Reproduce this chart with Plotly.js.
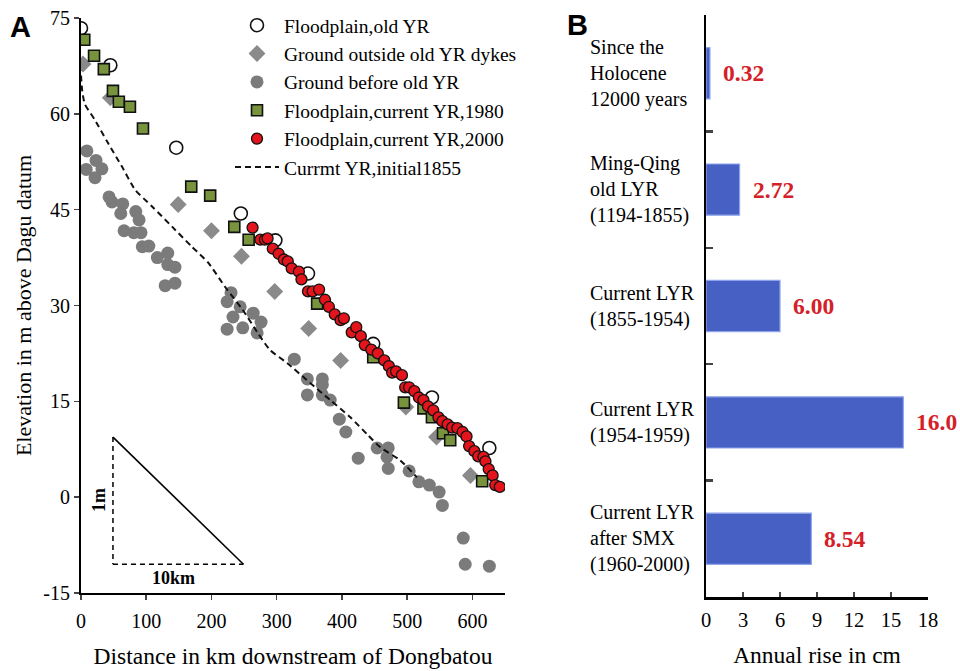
<!DOCTYPE html>
<html>
<head>
<meta charset="utf-8">
<script src="https://cdn.plot.ly/plotly-3.0.1.min.js"></script>
<style>html,body{margin:0;padding:0;background:#fff;}#chart{width:960px;height:671px;}</style>
</head>
<body>
<div id="chart"></div>
<script>
// ---------- Panel A data (distance km, elevation m) ----------
const oldYR_x = [0, 45, 146, 245, 298, 348, 448, 538, 626];
const oldYR_y = [73.4, 67.6, 54.7, 44.4, 40.2, 35.0, 24.0, 15.6, 7.7];

const outside_x = [3, 45, 149, 200, 246, 297, 349, 398, 498, 545, 597];
const outside_y = [67.8, 62.5, 45.8, 41.7, 37.7, 32.2, 26.4, 21.4, 14.1, 9.4, 3.4];

const before_x = [9, 23, 32, 8, 21.5, 43, 47.5, 64, 61, 84, 89, 66, 81, 92, 94, 104, 117, 133, 133, 144, 129, 144,
  230, 224, 244, 233, 264, 276, 248, 224, 270, 327, 347, 370, 370, 347, 370, 382, 396, 406, 425, 454, 471, 469, 471,
  503, 518, 534, 549, 554, 586, 589, 626];
const before_y = [54.2, 52.7, 51.4, 51.3, 50.0, 47.0, 46.2, 45.9, 44.4, 44.7, 43.4, 41.7, 41.4, 41.4, 39.2, 39.3, 37.5,
  38.2, 36.4, 36.0, 33.1, 33.5, 32.0, 30.6, 29.8, 28.2, 28.8, 27.4, 26.5, 26.3, 25.7, 21.6, 18.5, 18.5, 17.6, 16.0,
  16.0, 15.2, 12.2, 10.2, 6.1, 7.7, 7.7, 6.3, 4.5, 4.1, 2.4, 1.9, 0.8, -1.3, -6.4, -10.5, -10.8];

const fp1980_x = [5, 20, 35, 49, 58, 75, 95, 169, 198, 235, 257, 362, 448, 495, 525, 538, 555, 566, 615];
const fp1980_y = [71.6, 69.1, 67.0, 63.6, 61.9, 61.1, 57.7, 48.6, 47.2, 42.3, 40.3, 30.3, 21.9, 14.8, 13.9, 12.5, 10.0, 8.9, 2.5];

const fp2000_x = [263, 275, 282, 286, 294, 303, 311, 317, 323, 334, 338, 348, 355, 365, 374, 380, 389, 398, 403, 415,
  422, 429, 435, 445, 455, 465, 472, 477, 483, 492, 497, 503, 511, 518, 525, 532, 540, 548, 554, 562, 569, 577, 585,
  591, 595, 603, 609, 617, 620, 625, 631, 635, 642];
const fp2000_y = [42.2, 40.3, 40.3, 40.5, 38.9, 38.1, 37.2, 36.9, 35.8, 35.3, 34.1, 32.2, 32.2, 32.5, 30.9, 29.8, 28.6,
  27.7, 28.0, 25.8, 26.6, 25.2, 23.8, 23.1, 22.5, 21.4, 20.5, 19.5, 19.7, 19.1, 17.2, 17.2, 16.6, 15.6, 15.2, 14.2,
  13.6, 12.5, 11.9, 11.4, 10.9, 10.8, 10.2, 9.5, 8.0, 7.2, 6.4, 6.3, 5.6, 4.4, 3.4, 1.9, 1.6];

const init1855_x = [0, 2, 6, 21, 41, 63, 83, 109, 140, 170, 195, 221, 248, 271, 290, 316, 351, 382, 413, 440, 459, 489, 515];
const init1855_y = [66, 63.5, 61.5, 59.1, 55.5, 51.7, 48.1, 45.5, 42.3, 39.2, 36.7, 32.9, 29.3, 25.7, 23.0, 21.0, 17.9, 15.2, 12.5, 9.7, 7.8, 5.8, 3.1];

const xTicksA = [0, 100, 200, 300, 400, 500, 600];
const yTicksA = [-15, 0, 15, 30, 45, 60, 75];
const yTickTextA = ["-15", "0", "15", "30", "45", "60", "75"];

// ---------- Panel B data ----------
const periods = ["Since the<br>Holocene<br>12000 years", "Ming-Qing<br>old LYR<br>(1194-1855)",
  "Current LYR<br>(1855-1954)", "Current LYR<br>(1954-1959)", "Current LYR<br>after SMX<br>(1960-2000)"];
const annualRise = [0.32, 2.72, 6.00, 16.0, 8.54];
const riseLabels = ["0.32", "2.72", "6.00", "16.0", "8.54"];
const xTicksB = [0, 3, 6, 9, 12, 15, 18];

const serif = "Liberation Serif, Times New Roman, serif";

const traces = [
  {x: before_x, y: before_y, name: "Ground before old YR", type: "scatter", mode: "markers", legendrank: 3,
   marker: {symbol: "circle", size: 13, color: "#7b7b7b"}, xaxis: "x", yaxis: "y"},
  {x: outside_x, y: outside_y, name: "Ground outside old YR dykes", type: "scatter", mode: "markers", legendrank: 2,
   marker: {symbol: "diamond", size: 13, color: "#8a8a8a"}, xaxis: "x", yaxis: "y"},
  {x: init1855_x, y: init1855_y, name: "Currmt YR,initial1855", type: "scatter", mode: "lines", legendrank: 6,
   line: {color: "#111", width: 2, dash: "6px,4px", shape: "spline", smoothing: 0.6}, xaxis: "x", yaxis: "y"},
  {x: oldYR_x, y: oldYR_y, name: "Floodplain,old YR", type: "scatter", mode: "markers", legendrank: 1,
   marker: {symbol: "circle", size: 13, color: "#ffffff", line: {color: "#111", width: 1.6}}, xaxis: "x", yaxis: "y"},
  {x: fp1980_x, y: fp1980_y, name: "Floodplain,current YR,1980", type: "scatter", mode: "markers", legendrank: 4,
   marker: {symbol: "square", size: 11, color: "#77933c", line: {color: "#111", width: 1.6}}, xaxis: "x", yaxis: "y"},
  {x: fp2000_x, y: fp2000_y, name: "Floodplain,current YR,2000", type: "scatter", mode: "markers", legendrank: 5,
   marker: {symbol: "circle", size: 11, color: "#e3141b", line: {color: "#111", width: 1.3}}, xaxis: "x", yaxis: "y"},
  {x: annualRise, y: periods, type: "bar", orientation: "h", showlegend: false, width: 0.44,
   marker: {color: "#4660c4", line: {color: "#8ea4ec", width: 1.2}}, xaxis: "x2", yaxis: "y2"}
];

const annotations = [
  {text: "<b>A</b>", xref: "paper", yref: "paper", x: 20/960, y: 1 - 27/671, xanchor: "center", yanchor: "middle",
   showarrow: false, font: {family: "Liberation Sans, Arial, sans-serif", size: 29, color: "#000"}},
  {text: "<b>B</b>", xref: "paper", yref: "paper", x: 577/960, y: 1 - 25/671, xanchor: "center", yanchor: "middle",
   showarrow: false, font: {family: "Liberation Sans, Arial, sans-serif", size: 29, color: "#000"}},
  {text: "<b>1m</b>", xref: "paper", yref: "paper", x: 99/960, y: 1 - 500/671, xanchor: "center", yanchor: "middle",
   showarrow: false, textangle: -90, font: {family: serif, size: 18, color: "#000"}},
  {text: "<b>10km</b>", xref: "paper", yref: "paper", x: 173/960, y: 1 - 578/671, xanchor: "center", yanchor: "middle",
   showarrow: false, font: {family: serif, size: 18, color: "#000"}}
];
periods.forEach((p, i) => {
  annotations.push({text: p, xref: "paper", yref: "y2", x: 588/960, y: p, xanchor: "left", yanchor: "middle",
    align: "left", showarrow: false, font: {family: serif, size: 20, color: "#000"}});
  annotations.push({text: "<b>" + riseLabels[i] + "</b>", xref: "x2", yref: "y2", x: annualRise[i], y: p,
    xanchor: "left", yanchor: "middle", xshift: 11, showarrow: false,
    font: {family: serif, size: 23.5, color: "#d42027"}});
});

const shapes = [
  {type: "line", xref: "x", yref: "y", x0: 49, y0: 9.4, x1: 49, y1: -10.5, line: {color: "#000", width: 1.5, dash: "5px,4px"}},
  {type: "line", xref: "x", yref: "y", x0: 49, y0: -10.5, x1: 249, y1: -10.5, line: {color: "#000", width: 1.5, dash: "5px,4px"}},
  {type: "line", xref: "x", yref: "y", x0: 49, y0: 9.4, x1: 249, y1: -10.5, line: {color: "#000", width: 1.6}}
];

const layout = {
  width: 960, height: 671, autosize: false,
  margin: {l: 0, r: 0, t: 0, b: 0},
  paper_bgcolor: "#fff", plot_bgcolor: "#fff",
  font: {family: serif, color: "#000"},
  showlegend: true,
  legend: {x: 230/960, y: 1 - 6/671, xanchor: "left", yanchor: "top", bgcolor: "rgba(0,0,0,0)",
    font: {family: serif, size: 19.5, color: "#000"}, itemwidth: 44, tracegroupgap: 0},
  xaxis: {domain: [81/960, 505/960], range: [0, 650], tickvals: xTicksA, ticks: "outside", ticklen: 5,
    tickwidth: 1.5, showline: true, linewidth: 2, linecolor: "#000", showgrid: false, zeroline: false,
    tickfont: {family: serif, size: 20}, ticklabelstandoff: 4, anchor: "y",
    title: {text: "Distance in km downstream of Dongbatou", font: {family: serif, size: 23.5}, standoff: 17}},
  yaxis: {domain: [(671-593)/671, (671-18)/671], range: [-15, 75], tickvals: yTicksA, ticktext: yTickTextA,
    ticks: "outside", ticklen: 5,
    tickwidth: 1.5, showline: true, linewidth: 2, linecolor: "#000", showgrid: false, zeroline: false,
    tickfont: {family: serif, size: 20}, anchor: "x",
    title: {text: "Elevation in m above Dagu datum", font: {family: serif, size: 22}, standoff: 6}},
  xaxis2: {domain: [706/960, 928/960], range: [0, 18], tickvals: xTicksB, ticks: "inside", ticklen: 5,
    tickwidth: 1.5, showline: true, linewidth: 2.5, linecolor: "#000", showgrid: false, zeroline: false,
    tickfont: {family: serif, size: 20.5}, ticklabelstandoff: 3, anchor: "y2",
    title: {text: "Annual rise in cm", font: {family: serif, size: 23.5}, standoff: 17}},
  yaxis2: {domain: [(671-597)/671, (671-15)/671], type: "category", categoryorder: "array", categoryarray: periods,
    autorange: "reversed", ticks: "inside", tickson: "boundaries", ticklen: 7, tickwidth: 2.5,
    showticklabels: false, showline: true, linewidth: 2.5, linecolor: "#000", showgrid: false, zeroline: false,
    anchor: "x2"},
  annotations: annotations,
  shapes: shapes
};

Plotly.newPlot("chart", traces, layout, {staticPlot: true, displayModeBar: false});
</script>
</body>
</html>
